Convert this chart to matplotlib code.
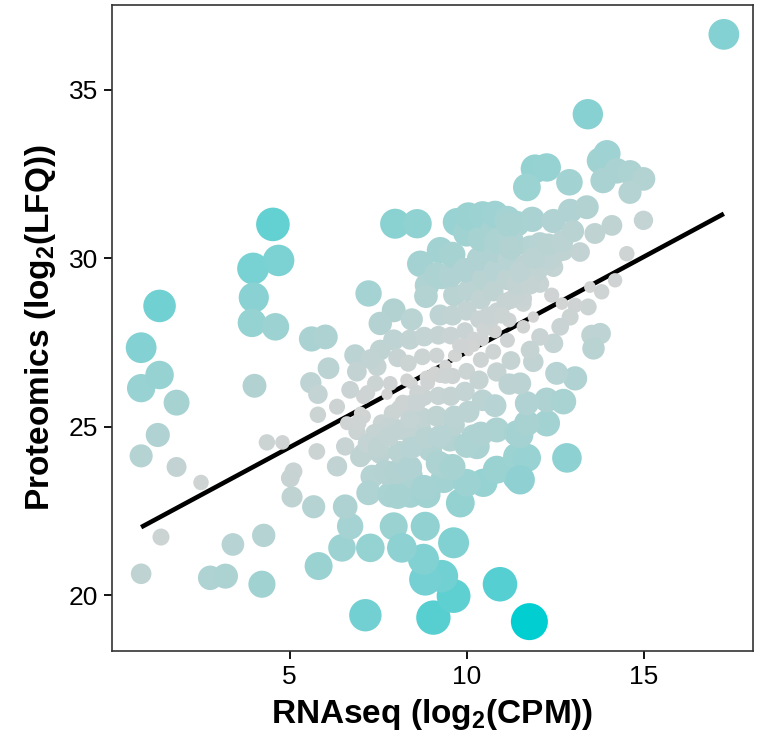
import numpy as np
import matplotlib
matplotlib.use("Agg")
import matplotlib.pyplot as plt

# ---- data ----
rna_left = [0.81, 0.81, 0.81, 0.81, 1.33, 1.33, 1.28, 1.37, 1.81, 1.81,
            2.50, 2.76, 3.19, 3.40, 4.27, 4.22, 3.97, 3.99, 3.94, 4.53,
            4.69, 4.60, 4.01, 4.36, 4.80, 5.11, 5.02, 5.07, 5.68, 5.82,
            5.77, 5.62, 6.01, 6.85, 6.10, 6.90, 5.60, 6.71, 5.80, 6.34,
            5.80, 7.23, 7.09, 7.09, 6.62, 6.95]
prot_left = [27.34, 26.14, 24.13, 20.63, 28.58, 26.53, 24.75, 21.72, 25.71, 23.80,
             23.34, 20.51, 20.56, 21.50, 21.77, 20.32, 29.69, 28.83, 28.08, 31.00,
             29.93, 27.96, 26.21, 24.53, 24.53, 23.67, 23.47, 22.91, 22.62, 20.86,
             24.26, 27.60, 27.66, 27.12, 26.73, 26.63, 26.30, 26.09, 25.96, 25.59,
             25.35, 28.95, 25.89, 25.30, 25.10, 25.15]

rna_low = [10.94, 9.06, 7.14, 9.63, 9.63, 9.30, 8.83, 8.78, 8.83, 7.94,
           8.17, 7.28, 6.48, 6.71, 6.57, 6.34, 6.57, 6.90, 7.09, 7.33,
           7.23, 7.84, 8.41, 8.88, 9.35, 9.82, 10.47, 10.00, 11.42, 10.85,
           11.42, 10.29, 10.19, 10.85, 11.42, 9.53, 8.97, 8.22, 7.56, 7.75,
           8.41, 9.35, 8.41, 8.69, 9.63, 7.84]
prot_low = [20.32, 19.33, 19.40, 19.97, 21.55, 20.56, 20.46, 21.06, 22.04, 22.04,
            21.40, 21.40, 21.40, 22.04, 22.62, 23.82, 24.41, 24.85, 24.21, 23.52,
            23.03, 22.98, 22.98, 22.98, 23.42, 22.73, 23.33, 23.33, 23.52, 23.72,
            24.11, 24.41, 24.70, 24.90, 24.80, 24.61, 24.31, 24.11, 24.21, 23.62,
            23.52, 23.82, 24.80, 25.00, 25.05, 24.80]

rna_right = [11.77, 12.83, 11.70, 11.51, 11.51, 12.26, 11.70, 13.06, 12.54, 12.26,
             12.73, 11.70, 11.88, 11.51, 13.43, 13.06, 12.69, 12.40, 12.92, 12.64,
             13.53, 13.77, 13.58, 12.45, 12.07, 11.79, 11.60, 11.88, 11.60, 12.07,
             11.88, 12.45, 11.79, 12.07, 12.73, 13.20, 14.52, 14.19, 13.81, 13.48,
             13.62, 14.10, 14.99, 11.85, 12.45, 12.92, 13.39]
prot_right = [19.21, 24.07, 24.07, 24.75, 23.42, 25.10, 25.10, 26.43, 26.58, 25.79,
              25.74, 25.69, 26.92, 26.28, 28.55, 28.60, 28.65, 28.90, 28.25, 27.96,
              27.71, 27.76, 27.32, 27.47, 27.66, 27.27, 27.96, 28.25, 28.65, 29.24,
              29.64, 29.73, 30.33, 30.43, 30.23, 30.18, 30.13, 29.34, 29.00, 29.14,
              30.73, 30.97, 31.12, 31.15, 31.10, 31.40, 31.51]

rna_top = [17.26, 13.42, 11.93, 12.26, 11.70, 12.90, 13.77, 13.96, 14.24, 14.61,
           14.99, 14.61, 13.85, 7.98, 8.60, 9.72, 10.85, 11.42]
prot_top = [36.64, 34.27, 32.65, 32.69, 32.10, 32.25, 32.89, 33.10, 32.59, 32.54,
            32.35, 31.95, 32.30, 31.02, 31.02, 31.07, 31.21, 31.02]

rna_mid = [8.69, 9.25, 10.00, 9.30, 8.88, 10.85, 11.23, 11.42, 7.94, 7.56,
           7.94, 7.56, 7.47, 7.42, 7.84, 8.31]
prot_mid = [29.83, 30.23, 29.64, 29.44, 29.19, 30.23, 29.73, 28.95, 28.45, 28.06,
            27.57, 27.27, 26.78, 26.28, 26.28, 26.38]

rna_core = [7.70, 7.65, 7.75,
            8.05, 8.00, 8.10, 8.00, 8.10, 8.05,
            8.40, 8.45, 8.35, 8.40, 8.45, 8.35, 8.40, 8.45,
            8.80, 8.85, 8.75, 8.80, 8.85, 8.75, 8.80, 8.85,
            9.20, 9.25, 9.15, 9.20, 9.25, 9.15, 9.20, 9.25, 9.15,
            9.60, 9.65, 9.55, 9.60, 9.65, 9.55, 9.60, 9.65, 9.55, 9.60,
            10.00, 10.05, 9.95, 10.00, 10.05, 9.95, 10.00, 10.05, 9.95, 10.00, 10.05,
            10.40, 10.45, 10.35, 10.40, 10.45, 10.35, 10.40, 10.45, 10.35, 10.40, 10.45,
            10.80, 10.85, 10.75, 10.80, 10.85, 10.75, 10.80, 10.85, 10.75, 10.80, 10.85,
            11.20, 11.25, 11.15, 11.20, 11.25, 11.15, 11.20, 11.25, 11.15, 11.20, 11.25,
            11.60, 11.65, 7.00, 7.20, 6.95, 7.30]
prot_core = [23.66, 24.96, 25.96,
             22.94, 23.64, 24.24, 24.94, 25.54, 27.04,
             23.78, 24.38, 24.98, 25.68, 26.28, 26.88, 27.58, 28.18,
             23.17, 24.67, 25.27, 25.87, 26.47, 27.07, 27.67, 28.87,
             23.91, 24.71, 25.31, 25.91, 26.51, 27.11, 27.71, 28.31, 29.51,
             23.80, 25.30, 25.90, 26.50, 27.10, 27.70, 28.30, 28.90, 29.50, 30.10,
             24.44, 25.44, 26.04, 26.64, 27.24, 27.84, 28.44, 29.04, 29.64, 30.74, 31.24,
             24.78, 25.78, 26.38, 26.98, 27.58, 28.18, 28.78, 29.38, 29.98, 30.58, 31.28,
             25.62, 26.62, 27.22, 27.82, 28.42, 29.02, 29.62, 30.22, 30.82, 31.30, 30.50,
             26.26, 26.96, 27.56, 28.16, 28.76, 29.36, 29.96, 30.56, 31.16, 31.00, 30.30,
             28.80, 29.80, 25.40, 26.00, 25.10, 27.00]

rna_band = [7.6, 7.9, 8.2, 8.6, 8.9, 9.1, 9.4, 9.7, 9.9, 10.2, 10.5,
            10.7, 10.9, 11.1, 11.4, 11.6, 11.8, 12.0, 12.2, 12.4, 12.6,
            7.0, 7.4, 7.8, 8.2, 8.6, 9.0, 9.4, 9.8, 10.2, 10.6, 11.0, 11.4, 11.8, 12.2,
            7.2, 7.5, 7.8, 8.1, 8.4, 11.5, 11.9, 12.3, 12.7, 13.0]
prot_band = [25.1, 25.4, 25.7, 26.0, 26.3, 26.6, 26.8, 27.1, 27.4, 27.6, 27.9,
             28.2, 28.4, 28.7, 28.9, 29.2, 29.4, 29.6, 29.8, 30.0, 30.2,
             24.1, 24.8, 25.0, 25.7, 25.7, 26.5, 26.5, 27.4, 27.4, 28.3, 28.3, 29.2, 29.2, 30.0,
             24.5, 24.4, 24.7, 24.9, 25.2, 29.6, 30.0, 30.4, 30.5, 30.8]

x_ticks = [5, 10, 15]
y_ticks = [20, 25, 30, 35]
x_label = "RNAseq (log$_\\mathbf{2}$(CPM))"
y_label = "Proteomics (log$_\\mathbf{2}$(LFQ))"

# ---- assemble ----
x = np.array(rna_left + rna_low + rna_right + rna_top + rna_mid + rna_core + rna_band)
y = np.array(prot_left + prot_low + prot_right + prot_top + prot_mid + prot_core + prot_band)

slope, intercept = np.polyfit(x, y, 1)
resid = np.abs(y - (slope * x + intercept))
t = resid / resid.max()


# colour gradient interpolated in Lab space (like ggplot)
def srgb_to_lab(rgb):
    c = np.asarray(rgb, float)
    lin = np.where(c <= 0.04045, c / 12.92, ((c + 0.055) / 1.055) ** 2.4)
    M = np.array([[0.4124, 0.3576, 0.1805], [0.2126, 0.7152, 0.0722], [0.0193, 0.1192, 0.9505]])
    xyz = M @ lin / np.array([0.95047, 1.0, 1.08883])
    f = np.where(xyz > 0.008856, np.cbrt(xyz), 7.787 * xyz + 16 / 116)
    return np.array([116 * f[1] - 16, 500 * (f[0] - f[1]), 200 * (f[1] - f[2])])


def lab_to_srgb(lab):
    L, a, b = lab
    fy = (L + 16) / 116
    fx = fy + a / 500
    fz = fy - b / 200
    f = np.array([fx, fy, fz])
    xyz = np.where(f ** 3 > 0.008856, f ** 3, (f - 16 / 116) / 7.787) * np.array([0.95047, 1.0, 1.08883])
    Minv = np.linalg.inv(np.array([[0.4124, 0.3576, 0.1805], [0.2126, 0.7152, 0.0722], [0.0193, 0.1192, 0.9505]]))
    lin = Minv @ xyz
    lin = np.clip(lin, 0, 1)
    c = np.where(lin <= 0.0031308, 12.92 * lin, 1.055 * lin ** (1 / 2.4) - 0.055)
    return np.clip(c, 0, 1)


low = srgb_to_lab(np.array([211, 211, 211]) / 255)
high = srgb_to_lab(np.array([0, 206, 209]) / 255)
colors = [lab_to_srgb(low + (high - low) * ti) for ti in t]

d_px = 10 + 27 * np.sqrt(t)
sizes = (d_px * 0.72) ** 2

# ---- plot ----
plt.rcParams['font.family'] = ['Liberation Sans', 'DejaVu Sans']
plt.rcParams['mathtext.fontset'] = 'custom'
plt.rcParams['mathtext.rm'] = 'Liberation Sans'
plt.rcParams['mathtext.bf'] = 'Liberation Sans:bold'

fig = plt.figure(figsize=(7.58, 7.35), dpi=100)
ax = fig.add_axes([112 / 758, 1 - 651 / 735, 641 / 758, 646 / 735])

xs = np.array([x.min(), x.max()])
ax.plot(xs, slope * xs + intercept, color='black', lw=3.3, zorder=1, solid_capstyle='butt')
ax.scatter(x, y, s=sizes, c=colors, linewidths=0, zorder=2)

xr = x.max() - x.min()
yr = y.max() - y.min()
ax.set_xlim(x.min() - 0.05 * xr, x.max() + 0.05 * xr)
ax.set_ylim(y.min() - 0.05 * yr, y.max() + 0.05 * yr)

ax.set_xticks(x_ticks)
ax.set_yticks(y_ticks)
ax.tick_params(axis='both', length=6, width=1.3, labelsize=19, colors='black', pad=4)
for s in ax.spines.values():
    s.set_linewidth(1.2)
    s.set_color('#333333')

ax.set_xlabel(x_label, fontsize=24, fontweight='bold', labelpad=6)
ax.set_ylabel(y_label, fontsize=24, fontweight='bold', labelpad=8)

fig.savefig("out.png", dpi=100)
